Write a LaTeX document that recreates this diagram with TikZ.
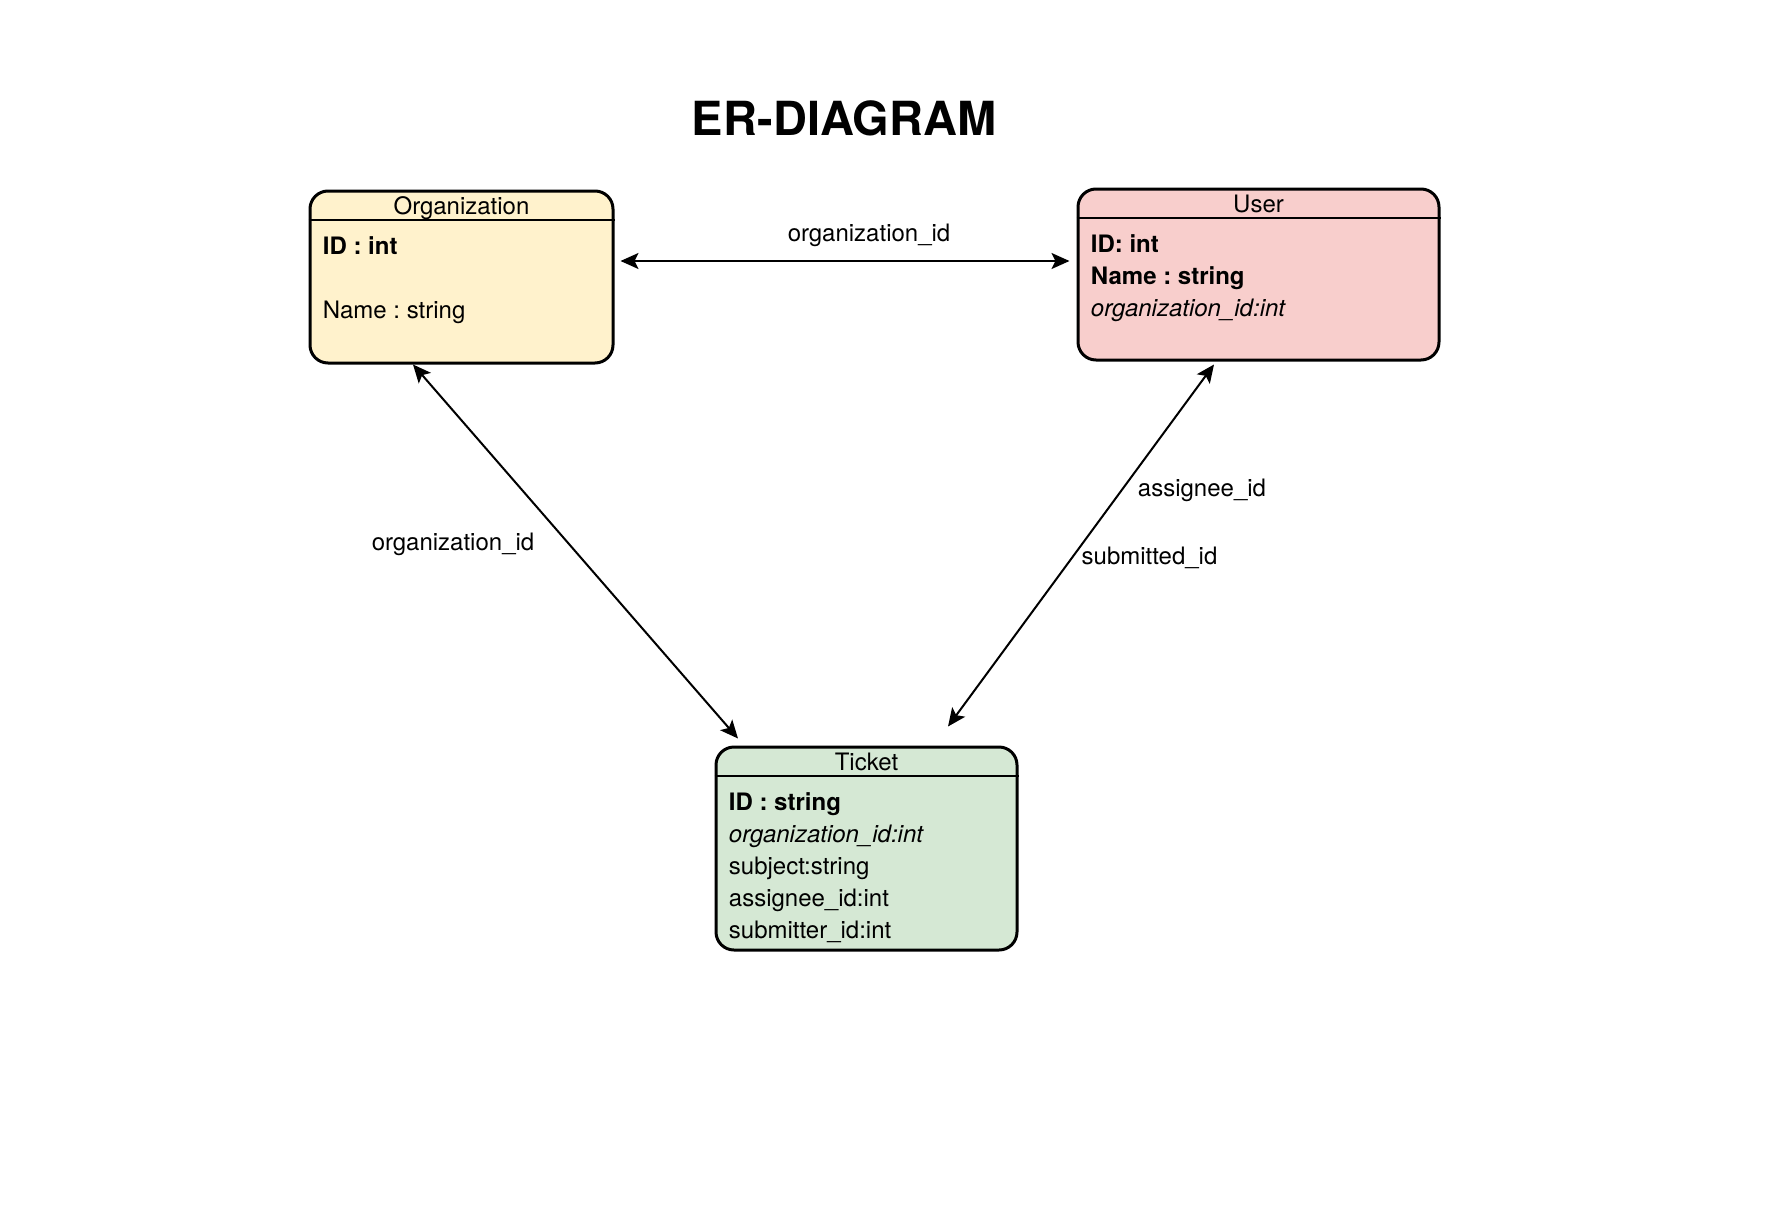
\documentclass[tikz,border=0pt]{standalone}
\usepackage{fontspec}
\setmainfont{TeX Gyre Heros}
\frenchspacing
\usetikzlibrary{arrows.meta,calc}
\definecolor{orgfill}{HTML}{FFF2CC}
\definecolor{userfill}{HTML}{F8CECC}
\definecolor{ticketfill}{HTML}{D5E8D4}
\tikzset{
  entity/.style={draw, line width=1.5pt, rounded corners=9pt, inner sep=0pt},
  header/.style={anchor=base, inner sep=0pt, font=\fontsize{12}{14}\selectfont},
  attr/.style={anchor=base west, inner sep=0pt, font=\fontsize{12}{14}\selectfont},
  rel/.style={{Stealth[length=9pt,width=8pt,inset=2pt]}-{Stealth[length=9pt,width=8pt,inset=2pt]}, line width=1pt},
  lbl/.style={inner sep=0pt, font=\fontsize{12}{14}\selectfont}
}
\begin{document}
\begin{tikzpicture}[x=0.5pt,y=-0.5pt]
\useasboundingbox (0,0) rectangle (1784,1216);
\node[font=\bfseries\fontsize{23.5}{28}\selectfont] (title) at (844,118) {ER-DIAGRAM};

% entities
\node[entity, fill=orgfill, minimum width=151.5pt, minimum height=86pt] (org) at (461.5,277) {};
\node[entity, fill=userfill, minimum width=180.5pt, minimum height=85.5pt] (user) at (1258.5,274.5) {};
\node[entity, fill=ticketfill, minimum width=150.5pt, minimum height=101.5pt] (ticket) at (866.5,848.5) {};

\foreach \e in {org,user,ticket}
\draw[line width=1pt] ($(\e.north west)+(0,30)$) -- ($(\e.north east)+(0,30)$);

\node[header] (orgname) at ($(org.north)+(0,24.5)$) {Organization};
\node[header] (username) at ($(user.north)+(0,24.5)$) {User};
\node[header] (ticketname) at ($(ticket.north)+(0,24.5)$) {Ticket};

% attributes
\foreach \txt/\i in {{\textbf{ID : int}}/1,{Name : string}/3}
\node[attr] (orgattr\i) at ($(org.north west)+(14,{65+32*(\i-1)})$) {\txt};
\foreach \txt/\i in {{\textbf{ID: int}}/1,{\textbf{Name : string}}/2,{\textit{organization\_id:int}}/3}
\node[attr] (userattr\i) at ($(user.north west)+(14,{65+32*(\i-1)})$) {\txt};
\foreach \txt/\i in {{\textbf{ID : string}}/1,{\textit{organization\_id:int}}/2,{subject:string}/3,{assignee\_id:int}/4,{submitter\_id:int}/5}
\node[attr] (ticketattr\i) at ($(ticket.north west)+(14,{65+32*(\i-1)})$) {\txt};

% relations
\draw[rel] ($(org.east)+(6,-16)$) -- ($(user.west)+(-7,-13.5)$);
\draw[rel] ($(org.south)+(-48.5,0)$) -- ($(ticket.north)+(-128.5,-7)$);
\draw[rel] ($(user.south)+(-44.5,3)$) -- ($(ticket.north)+(81.5,-19)$);

\node[lbl] (orguser) at (869,235) {organization\_id};
\node[lbl] (orgticket) at (453,544) {organization\_id};
\node[lbl] (assignee) at (1202,490) {assignee\_id};
\node[lbl] (submitted) at (1149.5,558) {submitted\_id};
\end{tikzpicture}
\end{document}
